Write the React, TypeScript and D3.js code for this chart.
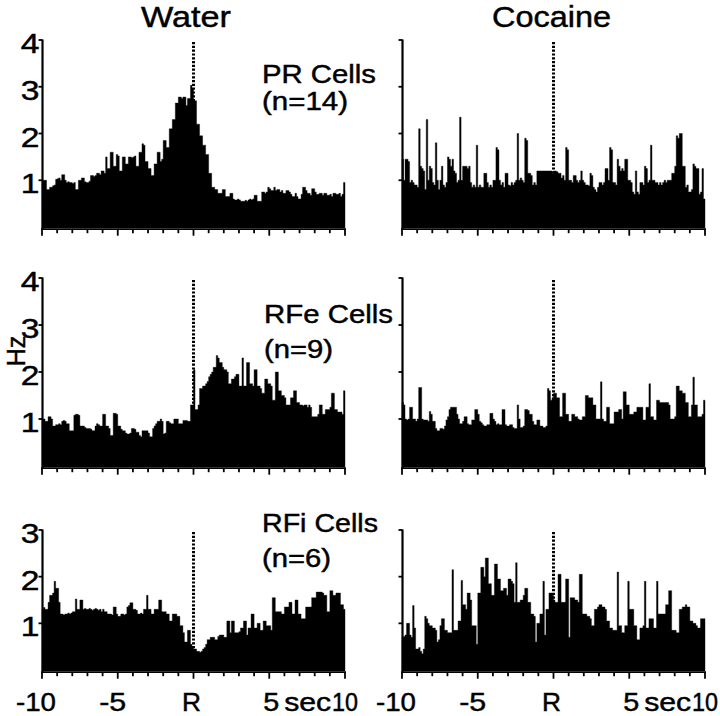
import React from "react";
import * as d3 from "d3";

// ---------- data ----------
const binStart = -10;
const binWidth = 0.1;
const xMajorTicks = [-10, -5, 0, 5, 10];
const xMajorLabels = ["-10", "-5", "R", "5", "10"];
const xUnitLabel = "sec";
const columnTitles = ["Water", "Cocaine"];
const cellTypes = ["PR Cells", "RFe Cells", "RFi Cells"];
const cellCounts = ["(n=14)", "(n=9)", "(n=6)"];
const yMaxByRow = [4, 4, 3];
const yAxisTitle = "Hz";

const waterPR = [
  1.0, 1.0, 1.0, 0.8, 0.8, 0.85, 0.85, 0.88, 0.9, 1.02,
  1.03, 1.05, 1.0, 1.12, 1.12, 1.0, 0.95, 0.97, 0.95, 0.95,
  0.93, 0.95, 0.8, 0.8, 1.0, 1.0, 1.05, 1.05, 0.97, 0.95,
  0.95, 0.98, 1.1, 1.1, 1.08, 1.1, 1.15, 1.15, 1.12, 1.2,
  1.2, 1.15, 1.5, 1.25, 1.25, 1.6, 1.6, 1.3, 1.3, 1.55,
  1.52, 1.2, 1.2, 1.5, 1.5, 1.35, 1.35, 1.5, 1.5, 1.48,
  1.5, 1.52, 1.3, 1.3, 1.6, 1.6, 1.78, 1.75, 1.4, 1.4,
  1.25, 1.25, 1.1, 1.1, 1.35, 1.35, 1.6, 1.6, 1.4, 1.45,
  1.85, 1.85, 1.7, 1.7, 2.1, 2.1, 2.3, 2.3, 2.65, 2.65,
  2.78, 2.78, 2.75, 2.78, 2.78, 2.6, 2.75, 2.75, 3.03, 2.95,
  2.7, 2.7, 2.2, 2.2, 1.95, 1.95, 1.75, 1.75, 1.55, 1.55,
  1.15, 1.15, 0.85, 0.85, 0.8, 0.8, 0.72, 0.72, 0.72, 0.8,
  0.8, 0.65, 0.65, 0.65, 0.72, 0.72, 0.6, 0.58, 0.58, 0.6,
  0.58, 0.55, 0.55, 0.55, 0.57, 0.55, 0.58, 0.6, 0.58, 0.6,
  0.68, 0.68, 0.55, 0.55, 0.55, 0.75, 0.75, 0.72, 0.75, 0.85,
  0.82, 0.78, 0.78, 0.85, 0.78, 0.8, 0.8, 0.75, 0.78, 0.72,
  0.72, 0.78, 0.78, 0.75, 0.7, 0.65, 0.65, 0.72, 0.65, 0.6,
  0.6, 0.7, 0.85, 0.85, 0.78, 0.72, 0.72, 0.68, 0.82, 0.82,
  0.75, 0.7, 0.7, 0.72, 0.72, 0.68, 0.72, 0.72, 0.68, 0.68,
  0.7, 0.65, 0.72, 0.72, 0.7, 0.7, 0.72, 0.65, 0.7, 0.95,
];

const cocainePR = [
  1.45, 1.0, 1.45, 1.45, 1.4, 0.95, 1.0, 0.95, 0.9, 0.9,
  0.85, 2.1, 1.3, 1.25, 1.2, 0.8, 2.3, 1.0, 1.3, 1.25,
  0.95, 0.9, 1.8, 1.0, 0.8, 1.0, 1.3, 0.9, 0.85, 0.95,
  1.5, 1.45, 1.3, 1.45, 1.2, 1.15, 0.95, 1.0, 2.35, 1.0,
  1.3, 1.3, 1.3, 1.25, 1.3, 0.95, 0.85, 0.9, 0.85, 1.75,
  0.85, 0.9, 0.85, 0.85, 1.15, 1.15, 0.95, 0.85, 0.9, 0.85,
  1.0, 1.0, 1.7, 1.65, 1.0, 0.9, 0.95, 0.85, 1.15, 1.15,
  0.9, 0.88, 0.95, 0.9, 0.95, 1.0, 2.0, 1.0, 1.05, 1.0,
  0.95, 1.9, 1.85, 1.15, 1.15, 1.1, 0.9, 0.95, 0.9, 1.2,
  1.2, 1.2, 1.2, 1.2, 1.2, 1.2, 1.2, 1.2, 1.2, 1.15,
  1.2, 1.2, 1.18, 1.15, 1.15, 1.05, 1.1, 1.0, 1.7, 1.65,
  1.0, 1.0, 0.95, 1.1, 1.1, 1.0, 0.95, 1.0, 1.2, 1.0,
  0.95, 0.9, 0.9, 0.88, 1.15, 1.1, 0.85, 0.8, 0.75, 0.85,
  0.95, 0.95, 0.9, 0.95, 1.25, 1.25, 1.0, 1.7, 1.65, 0.95,
  0.95, 0.9, 1.45, 1.3, 1.2, 1.25, 1.2, 1.45, 1.45, 1.0,
  1.0, 0.95, 0.75, 0.7, 1.2, 0.75, 0.7, 0.95, 0.95, 0.9,
  1.3, 1.25, 0.95, 1.0, 1.75, 1.0, 1.0, 0.95, 0.95, 0.9,
  0.95, 0.9, 0.95, 1.0, 0.95, 1.0, 1.0, 1.0, 1.15, 1.15,
  1.3, 1.95, 1.9, 2.0, 2.0, 1.3, 1.3, 0.85, 0.9, 0.75,
  0.75, 0.8, 1.35, 1.3, 1.25, 1.25, 0.7, 0.75, 1.25, 0.6,
];

const waterRFe = [
  1.0, 1.0, 0.95, 0.95, 1.05, 1.05, 1.0, 0.85, 0.85, 0.88,
  0.88, 0.9, 0.88, 0.95, 0.97, 0.95, 0.9, 0.9, 0.75, 0.75,
  0.75, 1.08, 1.1, 1.1, 1.08, 0.85, 0.85, 0.85, 0.82, 0.8,
  0.8, 0.8, 0.78, 0.75, 0.75, 0.85, 0.9, 0.88, 0.85, 0.85,
  1.1, 1.1, 0.85, 0.85, 0.8, 0.65, 0.65, 1.12, 1.12, 1.1,
  0.85, 0.85, 0.78, 0.75, 0.75, 0.7, 0.68, 0.68, 0.7, 0.8,
  0.8, 0.78, 0.72, 0.72, 0.65, 0.62, 0.75, 0.75, 0.75, 0.75,
  0.7, 0.62, 0.62, 0.8, 0.85, 0.9, 0.95, 0.95, 1.0, 0.95,
  0.68, 0.7, 0.95, 0.95, 0.92, 0.9, 0.9, 1.0, 1.0, 1.0,
  0.9, 0.9, 0.9, 0.97, 0.97, 0.97, 0.95, 0.95, 1.3, 1.3,
  2.05, 1.2, 1.2, 1.3, 1.65, 1.65, 1.7, 1.7, 1.75, 1.8,
  1.9, 1.95, 2.0, 2.1, 2.1, 2.35, 2.3, 2.2, 2.2, 2.1,
  2.05, 2.05, 2.0, 1.75, 1.75, 1.85, 1.85, 1.9, 1.95, 1.95,
  1.7, 1.7, 2.3, 1.7, 1.7, 2.2, 2.2, 1.75, 1.75, 1.7,
  2.05, 2.05, 1.7, 1.7, 1.65, 1.55, 1.55, 1.85, 1.85, 1.75,
  1.75, 1.7, 1.4, 1.4, 2.0, 2.0, 1.6, 1.6, 1.5, 1.5,
  1.45, 1.3, 1.3, 1.3, 1.45, 1.45, 1.6, 1.6, 1.35, 1.35,
  1.3, 1.3, 1.28, 1.3, 1.3, 1.25, 1.3, 1.25, 1.05, 1.05,
  1.05, 1.05, 1.1, 1.3, 1.3, 1.1, 1.1, 1.2, 1.2, 1.2,
  1.25, 1.55, 1.55, 1.2, 1.2, 1.15, 1.15, 1.15, 1.1, 1.6,
];

const cocaineRFe = [
  1.35, 1.3, 1.0, 0.98, 1.0, 1.25, 1.25, 1.0, 1.0, 0.95,
  1.0, 1.67, 1.67, 1.0, 0.98, 0.98, 0.98, 0.95, 1.16, 1.1,
  0.95, 0.95, 0.8, 0.75, 0.75, 0.8, 0.8, 0.78, 0.85, 0.98,
  1.05, 1.2, 1.25, 1.25, 1.25, 1.25, 1.1, 1.0, 0.9, 0.9,
  0.95, 1.05, 1.05, 0.9, 0.88, 0.88, 0.98, 0.98, 1.2, 1.2,
  1.1, 0.95, 0.92, 0.88, 0.85, 0.85, 0.88, 0.88, 1.12, 1.12,
  1.0, 0.95, 0.88, 0.9, 0.88, 0.88, 1.2, 1.2, 0.88, 0.85,
  0.85, 0.88, 0.88, 0.82, 0.8, 0.8, 1.3, 1.0, 0.82, 0.82,
  0.85, 1.2, 1.2, 1.18, 1.1, 1.1, 0.95, 0.88, 0.88, 0.98,
  0.98, 0.85, 0.85, 0.82, 0.82, 0.85, 1.65, 1.6, 1.4, 1.45,
  1.55, 1.55, 1.45, 1.45, 1.05, 1.05, 1.55, 1.55, 1.1, 1.1,
  0.95, 0.95, 1.1, 1.1, 1.05, 1.05, 1.0, 0.98, 0.98, 1.05,
  1.05, 1.5, 1.5, 1.45, 1.45, 1.45, 1.3, 1.3, 1.0, 1.0,
  1.0, 1.79, 1.0, 0.95, 0.95, 1.25, 1.25, 0.9, 0.9, 0.9,
  1.15, 1.15, 1.15, 1.2, 1.2, 1.0, 1.58, 1.58, 1.3, 1.3,
  1.1, 1.1, 1.1, 1.15, 1.15, 1.25, 1.25, 1.25, 1.25, 0.98,
  0.98, 1.25, 1.25, 1.75, 1.05, 1.05, 0.98, 0.98, 1.4, 1.4,
  1.35, 1.35, 1.35, 1.35, 1.35, 1.35, 1.3, 1.0, 1.0, 1.0,
  1.05, 1.7, 1.7, 1.6, 1.6, 1.55, 1.55, 1.35, 1.35, 1.05,
  1.05, 1.3, 1.89, 1.3, 1.3, 1.05, 1.05, 1.05, 1.1, 1.4,
];

const waterRFi = [
  1.3, 1.34, 1.3, 1.3, 1.45, 1.6, 1.6, 1.65, 1.9, 1.75,
  1.75, 1.45, 1.2, 1.2, 1.18, 1.2, 1.2, 1.22, 1.2, 1.22,
  1.25, 1.25, 1.52, 1.3, 1.3, 1.5, 1.5, 1.3, 1.32, 1.3,
  1.3, 1.32, 1.3, 1.28, 1.3, 1.32, 1.3, 1.28, 1.3, 1.25,
  1.3, 1.25, 1.25, 1.2, 1.2, 1.2, 1.18, 1.35, 1.35, 1.2,
  1.15, 1.15, 1.2, 1.2, 1.18, 1.2, 1.35, 1.38, 1.44, 1.44,
  1.3, 1.3, 1.28, 1.2, 1.2, 1.22, 1.2, 1.3, 1.3, 1.6,
  1.3, 1.3, 1.2, 1.2, 1.3, 1.3, 1.3, 1.5, 1.5, 1.25,
  1.25, 1.25, 1.2, 1.2, 1.05, 1.05, 1.2, 1.2, 1.2, 1.15,
  1.15, 0.95, 0.95, 0.8, 0.6, 0.6, 0.85, 0.85, 0.55, 0.5,
  0.45, 0.45, 0.4, 0.4, 0.38, 0.4, 0.45, 0.48, 0.55, 0.65,
  0.65, 0.7, 0.7, 0.7, 0.65, 0.65, 0.72, 0.75, 0.75, 0.75,
  0.7, 0.7, 1.05, 1.05, 0.8, 1.05, 1.05, 0.8, 0.8, 0.8,
  0.82, 0.9, 0.9, 1.05, 1.05, 0.75, 0.9, 0.9, 1.2, 1.2,
  0.9, 0.9, 1.0, 1.0, 0.85, 0.85, 1.05, 1.05, 0.95, 0.95,
  0.95, 0.85, 1.55, 1.55, 1.25, 1.25, 1.25, 1.25, 1.2, 1.2,
  1.35, 1.35, 1.35, 1.45, 1.45, 1.2, 1.2, 1.5, 1.5, 1.2,
  1.2, 1.1, 1.1, 1.1, 1.35, 1.35, 1.35, 1.35, 1.55, 1.55,
  1.55, 1.67, 1.67, 1.67, 1.67, 1.65, 1.6, 1.6, 1.25, 1.25,
  1.7, 1.7, 1.6, 1.6, 1.65, 1.65, 1.65, 1.4, 1.4, 1.3,
];

const cocaineRFi = [
  0.7, 0.72, 0.75, 1.0, 1.0, 0.75, 0.7, 1.38, 0.9, 0.45,
  0.45, 0.48, 0.4, 0.35, 0.45, 1.15, 1.1, 1.0, 0.95, 0.95,
  0.9, 0.9, 0.85, 0.6, 0.65, 0.95, 1.1, 1.1, 0.85, 0.85,
  0.8, 0.8, 0.8, 2.15, 0.85, 0.85, 0.85, 1.05, 1.05, 1.92,
  1.4, 1.4, 1.3, 1.65, 1.65, 1.5, 0.95, 0.95, 0.95, 0.55,
  1.65, 1.65, 2.2, 2.2, 2.0, 2.4, 2.4, 1.85, 1.85, 1.6,
  1.6, 2.27, 2.27, 1.95, 1.95, 1.7, 1.7, 1.75, 1.75, 1.6,
  1.95, 1.95, 1.9, 1.85, 1.45, 2.3, 1.45, 1.45, 1.5, 1.5,
  1.6, 1.75, 1.75, 1.45, 1.45, 1.2, 1.2, 1.15, 0.6, 1.0,
  1.0, 1.2, 1.2, 1.9, 0.75, 1.3, 1.3, 1.65, 1.65, 1.6,
  1.5, 1.45, 1.45, 2.05, 2.05, 1.45, 1.45, 1.45, 1.95, 1.95,
  0.7, 1.55, 1.55, 1.55, 1.5, 1.5, 1.45, 2.05, 2.05, 1.2,
  1.2, 1.2, 1.15, 1.15, 1.1, 0.95, 0.95, 1.3, 1.3, 1.35,
  1.4, 1.4, 1.35, 1.35, 1.3, 1.05, 1.05, 0.9, 0.9, 0.85,
  0.85, 0.85, 2.1, 0.95, 0.95, 0.8, 0.8, 0.95, 0.95, 1.9,
  1.3, 1.3, 1.3, 0.95, 0.95, 0.65, 0.65, 0.9, 0.9, 0.95,
  1.9, 0.9, 0.9, 1.1, 1.1, 1.1, 0.9, 0.9, 1.9, 1.2,
  1.2, 1.2, 1.2, 1.2, 1.4, 1.4, 1.7, 1.7, 0.85, 0.85,
  0.85, 0.8, 0.8, 1.3, 1.3, 1.35, 1.35, 1.4, 1.35, 1.35,
  1.05, 1.05, 1.0, 1.0, 0.95, 0.9, 0.9, 1.1, 1.1, 1.1,
];

const panelData = [
  [waterPR, cocainePR],
  [waterRFe, cocaineRFe],
  [waterRFi, cocaineRFi],
];

// ---------- layout ----------
const W = 720;
const H = 716;
const FONT = "'Liberation Sans', Arial, Helvetica, sans-serif";
const TEXT_STROKE = 0.45;
const COLS = [
  { x0: 42, x1: 345 },
  { x0: 402, x1: 705 },
];
const ROWS = [
  { y0: 227, yTop: 40 },
  { y0: 466, yTop: 278 },
  { y0: 670, yTop: 530 },
];
const AXIS_GAP = 2.2;
const STRETCH = 1.2;

// label positions (left edge, baseline, target length)
const titleLayout = [
  { x: 141, y: 27, len: 90 },
  { x: 492, y: 27, len: 119 },
];
const typeLayout = [
  { x: 262, y: 83, len: 114, nx: 262, ny: 110, nlen: 86 },
  { x: 264, y: 323, len: 129, nx: 264, ny: 358, nlen: 69 },
  { x: 262, y: 532, len: 116, nx: 262, ny: 567, nlen: 69 },
];
// x tick label centre offsets from tick position and target lengths
const xLabelAdjust = [
  { dx: -6, len: 40 },
  { dx: -5, len: 27 },
  { dx: -2, len: 19 },
  { dx: 2, len: 16 },
  { dx: 0, len: 26 },
];

const textProps = {
  fontFamily: FONT,
  fill: "#000",
  stroke: "#000",
  strokeWidth: TEXT_STROKE,
};

function Panel({ data, row, col }: { data: number[]; row: number; col: number }) {
  const c = COLS[col];
  const r = ROWS[row];
  const yMax = yMaxByRow[row];
  const x = d3.scaleLinear().domain([-10, 10]).range([c.x0, c.x1]);
  const y = d3.scaleLinear().domain([0, yMax]).range([r.y0, r.yTop]);

  const pts: [number, number][] = data.map((v, i) => [binStart + i * binWidth, v]);
  pts.push([binStart + data.length * binWidth, data[data.length - 1]]);
  const area = d3
    .area<[number, number]>()
    .x((d) => x(d[0]))
    .y0(y(0) + 1)
    .y1((d) => y(d[1]))
    .curve(d3.curveStepAfter);

  const axisY = y(0) + AXIS_GAP;
  const allTicks = d3.range(-10, 11, 1);
  const yTicks = d3.range(1, yMax + 1, 1);
  const axisX = c.x0 + 0.5;

  return (
    <g>
      <path d={area(pts) || ""} fill="#000" stroke="#000" strokeWidth={0.4} />
      {/* dotted response line */}
      <line
        x1={x(0)}
        x2={x(0)}
        y1={y(yMax) + 2}
        y2={y(0)}
        stroke="#000"
        strokeWidth={3}
        strokeDasharray="2.2 1.6"
      />
      {/* y axis */}
      <line x1={axisX} x2={axisX} y1={y(yMax) - 0.5} y2={axisY} stroke="#000" strokeWidth={2.2} />
      {yTicks.map((t) => (
        <line key={"yt" + t} x1={axisX - 4} x2={axisX} y1={y(t)} y2={y(t)} stroke="#000" strokeWidth={1.8} />
      ))}
      {col === 0 &&
        yTicks.map((t) => (
          <text
            key={"yl" + t}
            transform={`translate(${axisX - 3},${y(t) + 13}) scale(${STRETCH},1)`}
            textAnchor="end"
            fontSize={28}
            {...textProps}
          >
            {String(t)}
          </text>
        ))}
      {/* x axis */}
      <line x1={x(-10) - 1} x2={x(10) + 1} y1={axisY} y2={axisY} stroke="#000" strokeWidth={1.8} />
      {allTicks.map((t) => {
        const major = xMajorTicks.includes(t);
        return (
          <line
            key={"xt" + t}
            x1={x(t)}
            x2={x(t)}
            y1={axisY}
            y2={axisY + (major ? 6.5 : 4)}
            stroke="#000"
            strokeWidth={1.8}
          />
        );
      })}
      {row === ROWS.length - 1 && (
        <g>
          {xMajorTicks.map((t, i) => {
            const a = xLabelAdjust[i];
            return (
              <text
                key={"xl" + t}
                x={x(t) + a.dx - a.len / 2}
                y={711}
                textLength={a.len}
                lengthAdjust="spacingAndGlyphs"
                fontSize={25}
                {...textProps}
              >
                {xMajorLabels[i]}
              </text>
            );
          })}
          <text
            x={(x(5) + x(10)) / 2 - 23}
            y={711}
            textLength={47}
            lengthAdjust="spacingAndGlyphs"
            fontSize={25}
            {...textProps}
          >
            {xUnitLabel}
          </text>
        </g>
      )}
    </g>
  );
}

export default function App() {
  return (
    <svg
      width={W}
      height={H}
      viewBox={`0 0 ${W} ${H}`}
      style={{ position: "absolute", left: 0, top: 0, display: "block", background: "#fff" }}
    >
      <rect x={0} y={0} width={W} height={H} fill="#fff" />
      {columnTitles.map((t, i) => (
        <text
          key={t}
          x={titleLayout[i].x}
          y={titleLayout[i].y}
          textLength={titleLayout[i].len}
          lengthAdjust="spacingAndGlyphs"
          fontSize={29}
          {...textProps}
        >
          {t}
        </text>
      ))}
      {panelData.map((rowData, ri) =>
        rowData.map((d, ci) => <Panel key={ri + "-" + ci} data={d} row={ri} col={ci} />)
      )}
      {cellTypes.map((t, i) => (
        <g key={t}>
          <text
            x={typeLayout[i].x}
            y={typeLayout[i].y}
            textLength={typeLayout[i].len}
            lengthAdjust="spacingAndGlyphs"
            fontSize={25}
            {...textProps}
          >
            {t}
          </text>
          <text
            x={typeLayout[i].nx}
            y={typeLayout[i].ny}
            textLength={typeLayout[i].nlen}
            lengthAdjust="spacingAndGlyphs"
            fontSize={25}
            {...textProps}
          >
            {cellCounts[i]}
          </text>
        </g>
      ))}
      <text
        transform="translate(25,351) rotate(-90)"
        textAnchor="middle"
        fontSize={25}
        {...textProps}
      >
        {yAxisTitle}
      </text>
    </svg>
  );
}
